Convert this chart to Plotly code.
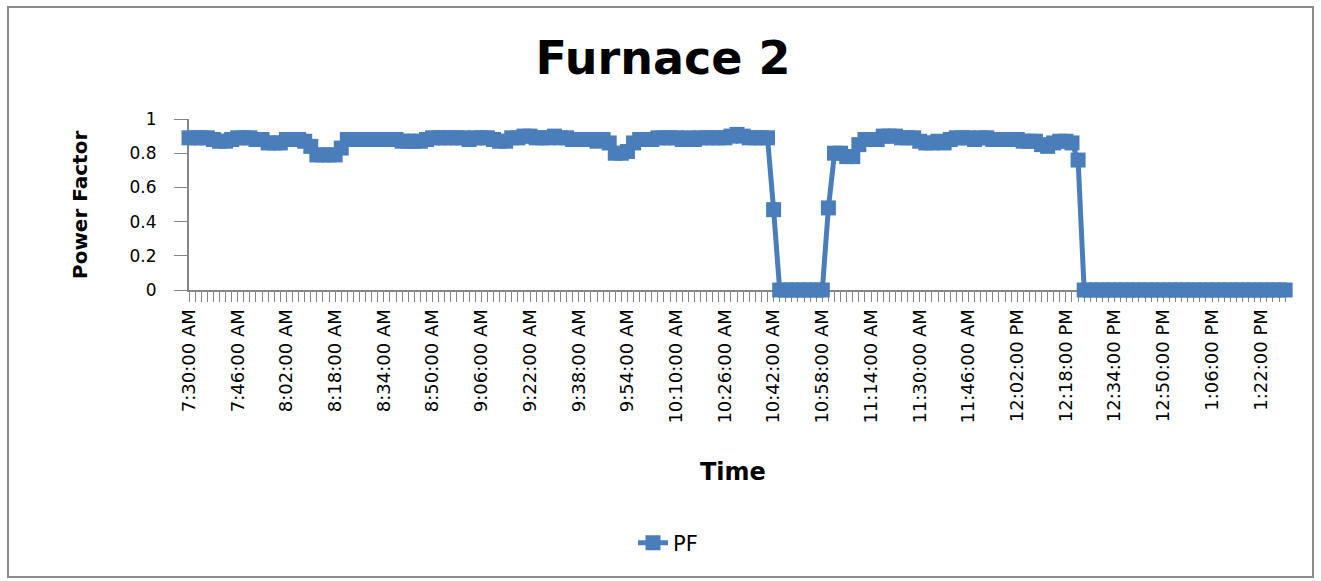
import plotly.graph_objects as go

# Sampling: one reading every 2 minutes starting at 7:30 AM
START_MIN = 7 * 60 + 30
STEP_MIN = 2

# Power factor readings, one per sample
pf = [
    0.89, 0.89, 0.89, 0.89, 0.88, 0.87, 0.87, 0.88, 0.89, 0.89,
    0.89, 0.88, 0.88, 0.86, 0.86, 0.86, 0.88, 0.88, 0.88, 0.87,
    0.84, 0.79, 0.79, 0.79, 0.79, 0.83, 0.88, 0.88, 0.88, 0.88,
    0.88, 0.88, 0.88, 0.88, 0.88, 0.87, 0.87, 0.87, 0.87, 0.88,
    0.89, 0.89, 0.89, 0.89, 0.89, 0.89, 0.88, 0.89, 0.89, 0.89,
    0.88, 0.87, 0.87, 0.89, 0.89, 0.90, 0.90, 0.89, 0.89, 0.89,
    0.90, 0.89, 0.89, 0.88, 0.88, 0.88, 0.88, 0.87, 0.88, 0.86,
    0.80, 0.80, 0.81, 0.86, 0.88, 0.88, 0.88, 0.89, 0.89, 0.89,
    0.89, 0.88, 0.89, 0.88, 0.89, 0.89, 0.89, 0.89, 0.89, 0.90,
    0.91, 0.90, 0.89, 0.89, 0.89, 0.89, 0.47, 0.00, 0.00, 0.00,
    0.00, 0.00, 0.00, 0.00, 0.00, 0.48, 0.80, 0.80, 0.78, 0.78,
    0.85, 0.88, 0.88, 0.88, 0.90, 0.90, 0.90, 0.89, 0.89, 0.89,
    0.87, 0.86, 0.86, 0.87, 0.86, 0.88, 0.89, 0.89, 0.89, 0.88,
    0.89, 0.89, 0.88, 0.88, 0.88, 0.88, 0.88, 0.87, 0.87, 0.87,
    0.85, 0.84, 0.86, 0.87, 0.87, 0.86, 0.76, 0.00, 0.00, 0.00,
    0.00, 0.00, 0.00, 0.00, 0.00, 0.00, 0.00, 0.00, 0.00, 0.00,
    0.00, 0.00, 0.00, 0.00, 0.00, 0.00, 0.00, 0.00, 0.00, 0.00,
    0.00, 0.00, 0.00, 0.00, 0.00, 0.00, 0.00, 0.00, 0.00, 0.00,
    0.00,
]


def clock_label(minutes):
    h, m = divmod(minutes, 60)
    suffix = "AM" if h < 12 else "PM"
    h12 = h % 12 or 12
    return f"{h12}:{m:02d}:00 {suffix}"


# Time categories for every sample
times = [clock_label(START_MIN + STEP_MIN * i) for i in range(len(pf))]

# A label on every 8th category (every 16 minutes)
LABEL_EVERY = 8
tick_positions = list(range(0, len(times), LABEL_EVERY))
tick_labels = [times[i] for i in tick_positions]

BLUE = "#4A7EBB"
AXIS_GREY = "#868686"
FONT = "DejaVu Sans"

x_pos = list(range(len(times)))

fig = go.Figure()
fig.add_trace(
    go.Scatter(
        x=x_pos,
        y=pf,
        customdata=times,
        hovertemplate="%{customdata}<br>PF %{y}<extra></extra>",
        mode="lines+markers",
        name="PF",
        line=dict(color=BLUE, width=5),
        marker=dict(symbol="square", size=15, color=BLUE, line=dict(width=0)),
        cliponaxis=False,
    )
)

# plot area in paper units: left 189px, right 1290px, top 119px, bottom 290px
PW, PH = 1101.0, 171.0


def px_x(px):
    return (px - 189) / PW


def px_y(py):
    return (290 - py) / PH


fig.update_layout(
    width=1321,
    height=581,
    margin=dict(l=189, r=31, t=119, b=291, pad=0),
    paper_bgcolor="white",
    plot_bgcolor="white",
    font=dict(family=FONT, color="black"),
    title=dict(
        text="<b>Furnace 2</b>",
        font=dict(family=FONT, size=46, color="black"),
        x=663 / 1321,
        xanchor="center",
        y=1 - 58 / 581,
        yanchor="middle",
    ),
    showlegend=True,
    legend=dict(
        orientation="h",
        x=px_x(668),
        xanchor="center",
        y=px_y(543),
        yanchor="middle",
        font=dict(family=FONT, size=21, color="black"),
        bgcolor="rgba(0,0,0,0)",
    ),
    xaxis=dict(
        range=[0, 180.8],
        showgrid=False,
        zeroline=False,
        showline=True,
        linecolor=AXIS_GREY,
        linewidth=2,
        ticks="outside",
        ticklen=10,
        tickwidth=1,
        tickcolor=AXIS_GREY,
        tickmode="array",
        tickvals=tick_positions,
        ticktext=tick_labels,
        tickangle=-90,
        tickfont=dict(family=FONT, size=18, color="black"),
        minor=dict(
            tick0=0,
            dtick=1,
            ticks="outside",
            ticklen=10,
            tickwidth=1,
            tickcolor=AXIS_GREY,
            showgrid=False,
        ),
        layer="below traces",
    ),
    yaxis=dict(
        range=[0, 1],
        dtick=0.2,
        tick0=0,
        showgrid=False,
        zeroline=False,
        showline=True,
        linecolor=AXIS_GREY,
        linewidth=2,
        ticks="outside",
        ticklen=13,
        tickwidth=1,
        tickcolor=AXIS_GREY,
        ticklabelstandoff=14,
        tickfont=dict(family=FONT, size=17, color="black"),
        layer="below traces",
    ),
    annotations=[
        dict(
            text="<b>Time</b>",
            xref="paper",
            yref="paper",
            x=px_x(733),
            y=px_y(472),
            xanchor="center",
            yanchor="middle",
            showarrow=False,
            font=dict(family=FONT, size=24, color="black"),
        ),
        dict(
            text="<b>Power Factor</b>",
            xref="paper",
            yref="paper",
            x=px_x(80),
            y=px_y(205),
            xanchor="center",
            yanchor="middle",
            textangle=-90,
            showarrow=False,
            font=dict(family=FONT, size=20, color="black"),
        ),
    ],
    shapes=[
        dict(
            type="rect",
            xref="paper",
            yref="paper",
            x0=px_x(8),
            x1=px_x(1313),
            y0=px_y(577),
            y1=px_y(7),
            line=dict(color="#8C8C8C", width=2),
            fillcolor="rgba(0,0,0,0)",
            layer="below",
        )
    ],
)

fig.write_html("out.html")
